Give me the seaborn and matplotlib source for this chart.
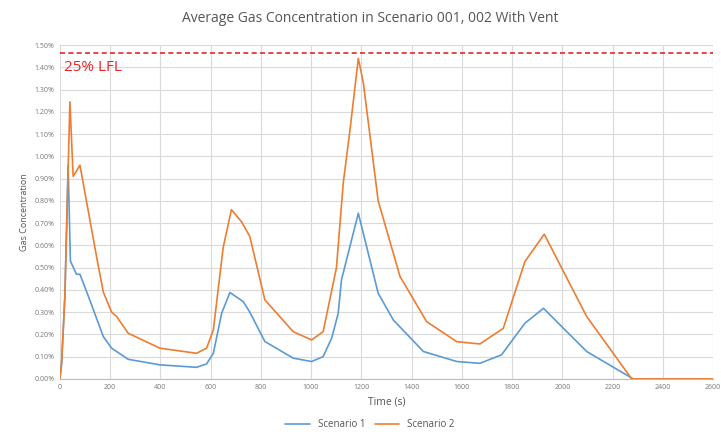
import matplotlib
matplotlib.use("Agg")
import matplotlib.pyplot as plt
import matplotlib.ticker as mtick
import numpy as np
import pandas as pd
import seaborn as sns

# Scenario 1 (time in s, concentration in %)
t1 = [0, 7, 20, 33, 42, 66, 80, 119, 173, 206, 272, 398, 544, 584, 611, 644, 677, 730,
      756, 816, 929, 1002, 1048, 1082, 1108, 1121, 1188, 1267, 1327, 1447, 1580, 1672,
      1758, 1851, 1925, 2097, 2282, 2600]
c1 = [0.0, 0.07, 0.37, 0.96, 0.53, 0.47, 0.47, 0.355, 0.19, 0.138, 0.088, 0.063, 0.052,
      0.067, 0.115, 0.295, 0.388, 0.347, 0.30, 0.168, 0.093, 0.078, 0.10, 0.183, 0.295,
      0.445, 0.744, 0.385, 0.265, 0.123, 0.078, 0.07, 0.108, 0.25, 0.317, 0.123, 0.0, 0.0]

# Scenario 2
t2 = [0, 7, 20, 40, 53, 80, 146, 173, 206, 226, 272, 398, 544, 584, 611, 650, 683, 723,
      756, 816, 929, 1002, 1048, 1101, 1128, 1155, 1188, 1208, 1267, 1354, 1460, 1580,
      1672, 1765, 1851, 1928, 2097, 2276, 2600]
c2 = [0.0, 0.07, 0.37, 1.245, 0.91, 0.96, 0.55, 0.39, 0.30, 0.28, 0.205, 0.138, 0.115,
      0.138, 0.22, 0.59, 0.76, 0.706, 0.64, 0.355, 0.212, 0.175, 0.212, 0.50, 0.88, 1.12,
      1.44, 1.33, 0.80, 0.46, 0.257, 0.167, 0.157, 0.227, 0.527, 0.65, 0.28, 0.0, 0.0]

lfl_25 = 1.464

df = pd.concat([
    pd.DataFrame({"Time (s)": t1, "conc": c1, "series": "Scenario 1"}),
    pd.DataFrame({"Time (s)": t2, "conc": c2, "series": "Scenario 2"}),
])

sns.set_style("whitegrid")
plt.rcParams["font.family"] = ["Open Sans", "DejaVu Sans"]

fig = plt.figure(figsize=(7.21, 4.37), dpi=100)
ax = fig.add_axes([0.083, 0.133, 0.906, 0.764])

sns.lineplot(data=df, x="Time (s)", y="conc", hue="series", sort=False,
             palette={"Scenario 1": "#5B9BD5", "Scenario 2": "#ED7D31"},
             linewidth=1.2, ax=ax, legend=False)

ax.axhline(lfl_25, color="#E8262A", linestyle=(0, (3, 2)), linewidth=1.2)
ax.text(15, 1.40, "25% LFL", color="#E8262A", fontsize=11, va="center")

ax.set_xlim(0, 2600)
ax.set_ylim(0, 1.5)
ax.set_xticks(np.arange(0, 2601, 200))
ax.set_yticks(np.arange(0, 1.501, 0.1))
ax.yaxis.set_major_formatter(mtick.FuncFormatter(lambda v, p: f"{v:.2f}%"))
ax.tick_params(axis="both", labelsize=5, colors="#777777", length=0, pad=4)
ax.grid(color="#DADADA", linewidth=0.8)
for side in ["top", "right", "left"]:
    ax.spines[side].set_visible(False)
ax.spines["bottom"].set_color("#BBBBBB")

ax.set_xlabel("Time (s)", fontsize=7.5, color="#555555", labelpad=4)
ax.set_ylabel("Gas Concentration", fontsize=6.5, color="#555555", labelpad=4)
fig.suptitle("Average Gas Concentration in Scenario 001, 002 With Vent",
             x=0.513, y=0.975, fontsize=10, color="#555555")

handles = [plt.Line2D([], [], color="#5B9BD5", lw=1.2),
           plt.Line2D([], [], color="#ED7D31", lw=1.2)]
fig.legend(handles, ["Scenario 1", "Scenario 2"], loc="lower center",
           bbox_to_anchor=(0.513, -0.005), ncol=2, frameon=False, fontsize=7,
           labelcolor="#555555", handlelength=2.5, columnspacing=1.0)

fig.savefig("out.png", dpi=100)
